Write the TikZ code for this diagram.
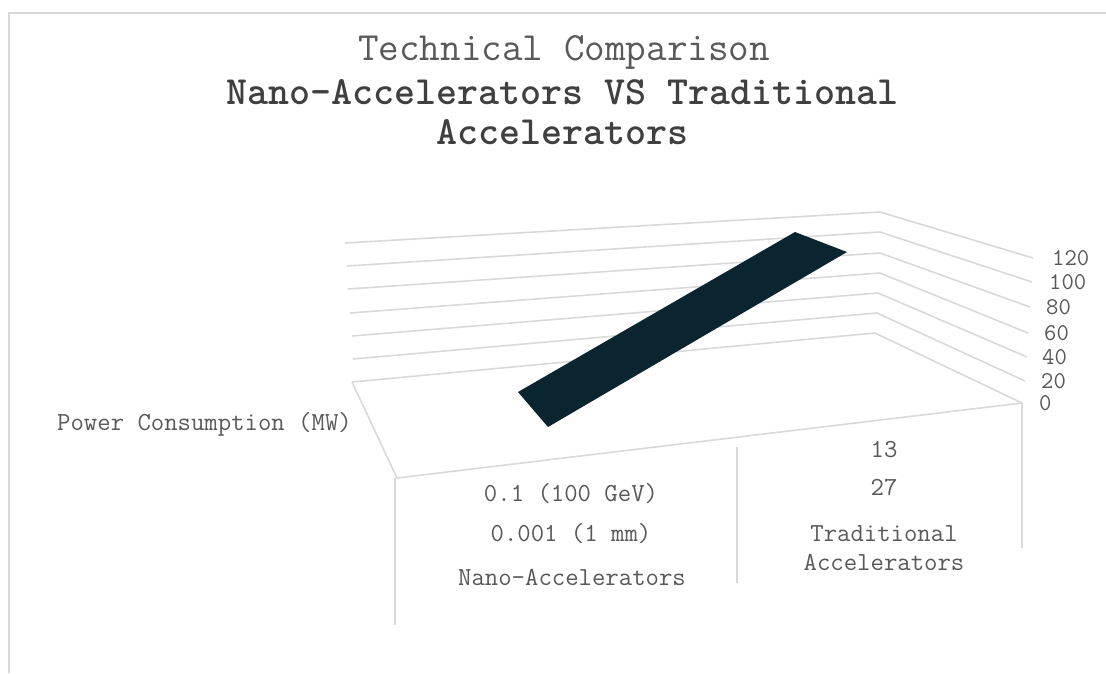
\documentclass[tikz,border=0pt]{standalone}
\definecolor{gridgray}{HTML}{D9D9D9}
\definecolor{txtgray}{HTML}{595959}
\definecolor{ttlgray}{HTML}{404040}
\definecolor{bardark}{HTML}{0A2430}

\begin{document}
\begin{tikzpicture}[x=1pt,y=-1pt,
    lbl/.style={text=txtgray,font=\ttfamily\fontsize{26}{29}\selectfont,inner sep=1pt},
    tick/.style={text=txtgray,font=\ttfamily\fontsize{24}{24}\selectfont,inner sep=0pt,anchor=west},
    gridln/.style={draw=gridgray,line width=1.6pt}]
  \useasboundingbox (0,0) rectangle (1106,673);
  \fill[white] (0,0) rectangle (1106,673);
  \draw[gridgray,line width=2.5pt] (9,673) -- (9,13) -- (1106,13);

  % title
  \node[text=txtgray,font=\ttfamily\fontsize{40}{40}\selectfont] (ttl) at (564,52) {Technical Comparison};
  \node[text=ttlgray,font=\ttfamily\fontsize{40}{40}\selectfont\bfseries,align=center] (sub) at (562,112)
    {Nano-Accelerators VS Traditional\\Accelerators};

  % back wall and side wall
  \foreach \v/\xl/\yl/\xc/\yc/\xr/\yr/\xt in {0/352/382/875/333/1022/403/1039,
      20/353/359/877/313/1025/381/1041, 40/352/336/878/293/1027/357/1042,
      60/350/313/880/273/1028/333/1044, 80/348/289/880/253/1030/307/1046,
      100/347/266/880/232/1032/282/1049, 120/345/243/880/212/1033/258/1052}{
    \draw[gridln] (\xl,\yl) -- (\xc,\yc) -- (\xr,\yr);
    \node[tick] (v\v) at (\xt,\yr) {\v};
  }

  % floor
  \draw[gridln] (352,382) -- (397,478) -- (1022,403);
  \draw[gridln] (395,478) -- (395,625);
  \draw[gridln] (737,447) -- (737,583);
  \draw[gridln] (1022,403) -- (1022,548);

  % bar
  \fill[bardark] (518,392) -- (795,232) -- (847,252) -- (548,427) -- cycle;

  % labels
  \node[lbl,anchor=west] (pwr) at (56,424) {Power Consumption (MW)};
  \node[lbl] (n1) at (571,494) {0.1 (100 GeV)};
  \node[lbl] (n2) at (571,534) {0.001 (1 mm)};
  \node[lbl] (n3) at (572,577) {Nano-Accelerators};
  \node[lbl] (t1) at (884,450) {13};
  \node[lbl] (t2) at (884,488) {27};
  \node[lbl,align=center] (t3) at (884,548) {Traditional\\Accelerators};
\end{tikzpicture}
\end{document}
